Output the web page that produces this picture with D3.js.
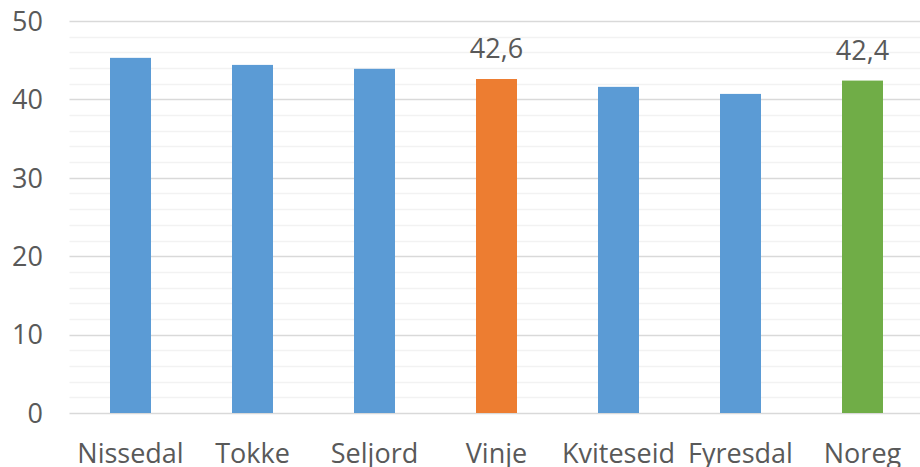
<!DOCTYPE html>
<html>
<head>
<meta charset="utf-8">
<script src="https://cdn.jsdelivr.net/npm/d3@7"></script>
<style>
  body { margin: 0; background: #fff; }
  text { font-family: "Open Sans", sans-serif; fill: #595959; }
</style>
</head>
<body>
<svg id="chart" width="920" height="467"></svg>
<script>
// values
var categories = ['Nissedal', 'Tokke', 'Seljord', 'Vinje', 'Kviteseid', 'Fyresdal', 'Noreg'];
var values = [45.3, 44.4, 43.9, 42.6, 41.6, 40.7, 42.4];
var barColours = ['#5B9BD5', '#5B9BD5', '#5B9BD5', '#ED7D31', '#5B9BD5', '#5B9BD5', '#70AD47'];
var labelled = ['Vinje', 'Noreg'];   //only these get a value label
var majorTicks = [0, 10, 20, 30, 40, 50];
var minorTicks = d3.range(0, 51, 2);

var svg = d3.select('#chart');
//note: "top" is taken by window.top, so plot* names
var plotLeft = 69.5, plotRight = 923.5, plotTop = 21, plotBottom = 413;

var x = d3.scaleBand()
    .domain(categories)
    .range([plotLeft, plotRight])
    .paddingInner(0.664)
    .paddingOuter(0.332);

var y = d3.scaleLinear()
    .domain([0, 50])
    .range([plotBottom, plotTop]);

//minor grid first so the major lines sit on top
svg.append('g')
    .selectAll('line')
    .data(minorTicks.filter(function(d) { return d % 10 !== 0; }))
    .enter().append('line')
    .attr('x1', plotLeft).attr('x2', 920)
    .attr('y1', function(d) { return Math.round(y(d)) + 0.5; })
    .attr('y2', function(d) { return Math.round(y(d)) + 0.5; })
    .attr('stroke', '#F2F2F2')
    .attr('stroke-width', 1.5);

svg.append('g')
    .selectAll('line')
    .data(majorTicks)
    .enter().append('line')
    .attr('x1', plotLeft).attr('x2', 920)
    .attr('y1', function(d) { return Math.round(y(d)) + 0.5; })
    .attr('y2', function(d) { return Math.round(y(d)) + 0.5; })
    .attr('stroke', '#D9D9D9')
    .attr('stroke-width', 1.5);

svg.append('g')
    .selectAll('rect')
    .data(values)
    .enter().append('rect')
    .attr('x', function(d, i) { return x(categories[i]); })
    .attr('width', x.bandwidth())
    .attr('y', function(d) { return y(d); })
    .attr('height', function(d) { return y(0) - y(d); })
    .attr('fill', function(d, i) { return barColours[i]; });

//y tick labels
svg.append('g')
    .selectAll('text')
    .data(majorTicks)
    .enter().append('text')
    .attr('x', 43)
    .attr('y', function(d) { return y(d); })
    .attr('dy', '0.36em')
    .attr('text-anchor', 'end')
    .style('font-size', '27px')
    .text(function(d) { return d; });

//category labels
svg.append('g')
    .selectAll('text')
    .data(categories)
    .enter().append('text')
    .attr('x', function(d) { return x(d) + x.bandwidth() / 2; })
    .attr('y', 463)
    .attr('text-anchor', 'middle')
    .style('font-size', '27px')
    .text(function(d) { return d; });

//data labels
svg.append('g')
    .selectAll('text')
    .data(values.filter(function(d, i) { return labelled.indexOf(categories[i]) >= 0; }))
    .enter().append('text')
    .attr('x', function(d) { return x(categories[values.indexOf(d)]) + x.bandwidth() / 2; })
    .attr('y', function(d) { return y(d) - 21; })
    .attr('text-anchor', 'middle')
    .style('font-size', '27px')
    .text(function(d) { return String(d).replace('.', ','); });
</script>
</body>
</html>
